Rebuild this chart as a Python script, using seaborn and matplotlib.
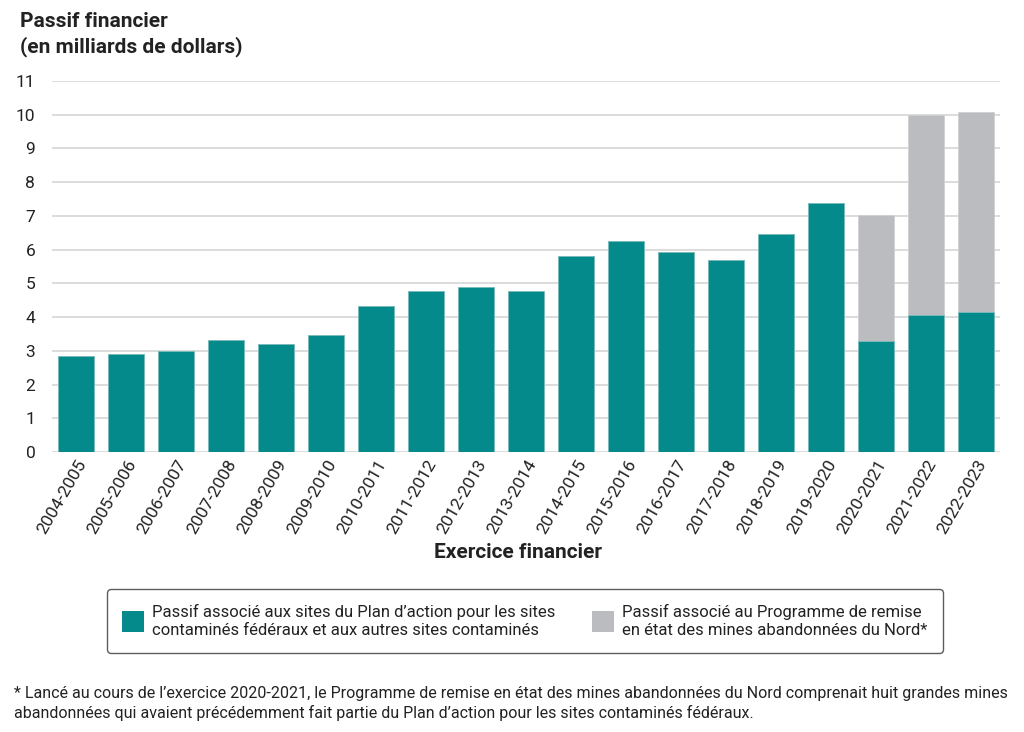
import matplotlib
matplotlib.use("Agg")
import matplotlib.pyplot as plt
import seaborn as sns
import pandas as pd
import numpy as np
from matplotlib import font_manager
from matplotlib.patches import Patch

years = ["2004-2005", "2005-2006", "2006-2007", "2007-2008", "2008-2009",
         "2009-2010", "2010-2011", "2011-2012", "2012-2013", "2013-2014",
         "2014-2015", "2015-2016", "2016-2017", "2017-2018", "2018-2019",
         "2019-2020", "2020-2021", "2021-2022", "2022-2023"]
contaminated = [2.86, 2.90, 3.00, 3.32, 3.21, 3.48, 4.34, 4.76, 4.89, 4.78,
                5.80, 6.26, 5.93, 5.70, 6.46, 7.37, 3.28, 4.05, 4.14]
northern_mines = [0, 0, 0, 0, 0, 0, 0, 0, 0, 0,
                  0, 0, 0, 0, 0, 0, 3.75, 5.94, 5.95]

label_a = "Passif associé aux sites du Plan d’action pour les sites\ncontaminés fédéraux et aux autres sites contaminés"
label_b = "Passif associé au Programme de remise\nen état des mines abandonnées du Nord*"
footnote = ("* Lancé au cours de l’exercice 2020-2021, le Programme de remise en état des mines abandonnées du Nord comprenait huit grandes mines\n"
            "abandonnées qui avaient précédemment fait partie du Plan d’action pour les sites contaminés fédéraux.")

sns.set_theme(style="white")
names = {f.name for f in font_manager.fontManager.ttflist}
fam = [f for f in ["Roboto", "DejaVu Sans"] if f in names]
plt.rcParams['font.family'] = fam

TEAL = "#058A8C"
GREY = "#BBBCBF"

df = pd.DataFrame({"year": years, "a": contaminated, "b": northern_mines})
df["total"] = df["a"] + df["b"]

fig = plt.figure(figsize=(10.24, 7.32), dpi=100)
ax = fig.add_axes([52/1024, 280/732, 948/1024, 371/732])

sns.barplot(data=df, x="year", y="total", color=GREY, width=0.72, saturation=1,
            edgecolor="#D0D0D2", linewidth=0.6, ax=ax, zorder=3)
sns.barplot(data=df, x="year", y="a", color=TEAL, width=0.72, saturation=1,
            edgecolor="#7FBDBE", linewidth=0.6, ax=ax, zorder=4)

ax.set_ylim(0, 11)
ax.set_xlim(-0.48, len(years) - 0.52)
ax.set_yticks(range(0, 12))
ax.yaxis.grid(True, color="#DCDCDC", linewidth=1.4, zorder=0)
ax.set_axisbelow(True)
for s in ax.spines.values():
    s.set_visible(False)
ax.tick_params(axis="y", labelsize=12.5, length=0, pad=12, labelcolor="#222222")
ax.tick_params(axis="x", labelsize=12.5, length=0, pad=4, labelcolor="#222222")
plt.setp(ax.get_xticklabels(), rotation=60, ha="right", rotation_mode="anchor")
ax.set_ylabel("")
ax.set_xlabel("Exercice financier", fontsize=15, fontweight="bold", color="#222222")
ax.xaxis.set_label_coords((518 - 52) / 948, -(553 - 452) / 371)
ax.xaxis.label.set_va("center")

fig.text(20/1024, 1 - 12/732, "Passif financier\n(en milliards de dollars)", fontsize=15,
         fontweight="bold", color="#222222", va="top", ha="left", linespacing=1.3)

handles = [Patch(facecolor=TEAL, edgecolor="none"), Patch(facecolor=GREY, edgecolor="none")]
leg = fig.legend(handles, [label_a, label_b], loc="center", bbox_to_anchor=(525/1024, 1 - 621/732),
                 ncol=2, frameon=True, fontsize=12, handlelength=1.3, handleheight=1.6,
                 handletextpad=0.5, columnspacing=2.2, borderpad=0.9, fancybox=True,
                 edgecolor="#333333")
leg.get_frame().set_linewidth(1.0)
for t in leg.get_texts():
    t.set_color("#222222")

fig.text(14/1024, 1 - 686/732, footnote, fontsize=11.5, color="#222222", va="top", ha="left",
         linespacing=1.3)

fig.savefig("out.png", dpi=100, facecolor="white")
